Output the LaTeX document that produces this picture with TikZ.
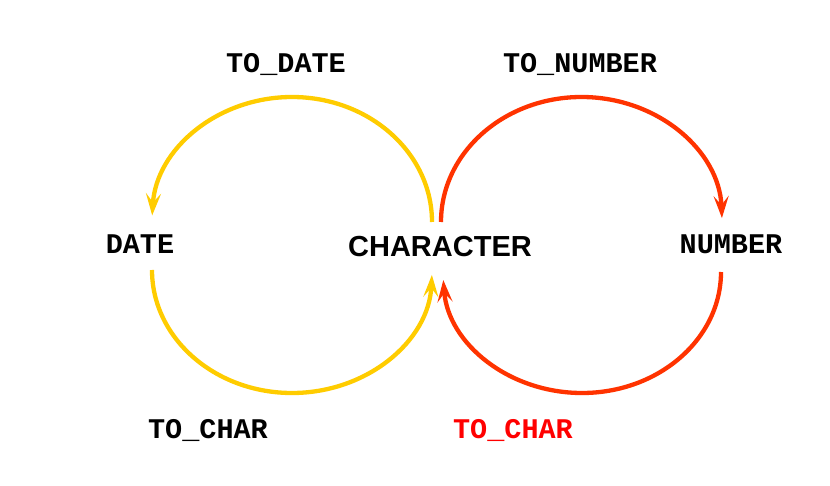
\documentclass[tikz,border=0pt]{standalone}
\usepackage{fontspec}
\setmainfont{Liberation Sans}
\newfontfamily\codefont{Liberation Mono}
\usetikzlibrary{arrows.meta}
\definecolor{arcyellow}{HTML}{FFCC00}
\definecolor{arcred}{HTML}{FF3300}
\definecolor{labelred}{HTML}{FF0000}
\begin{document}
\begin{tikzpicture}[x=1pt,y=-1pt,
  codelabel/.style={font=\codefont\bfseries\fontsize{28.5}{32}\selectfont, inner sep=0pt},
  mainlabel/.style={font=\bfseries\fontsize{29}{33}\selectfont, inner sep=0pt},
  conv/.style={line width=4.3pt, -{Stealth[length=22pt,width=15pt,inset=9pt]}},
  yel/.style={conv, draw=arcyellow},
  rd/.style={conv, draw=arcred}]
\useasboundingbox (0,0) rectangle (830,486);
\node[mainlabel] (char) at (440,247) {CHARACTER};
\node[codelabel] (date) at (140,244) {DATE};
\node[codelabel] (num) at (731,244) {NUMBER};
\node[codelabel] (todate) at (286,65) {TO\_DATE};
\node[codelabel] (tonum) at (580,65) {TO\_NUMBER};
\node[codelabel] (tochar1) at (208,430) {TO\_CHAR};
\node[codelabel, text=labelred] (tochar2) at (513,430) {TO\_CHAR};
% arc endpoints
\coordinate (cyu) at (432,222);
\coordinate (dtl) at (152,270);
\coordinate (cru) at (441,222);
\coordinate (nrl) at (721,272);
% yellow: CHARACTER -> DATE (top), DATE -> CHARACTER (bottom)
\draw[yel] (cyu) arc[start angle=0, end angle=177, x radius=140, y radius=-125];
\draw[yel] (dtl) arc[start angle=180, end angle=357.7, x radius=140, y radius=-123];
% red: CHARACTER -> NUMBER (top), NUMBER -> CHARACTER (bottom)
\draw[rd] (cru) arc[start angle=180, end angle=1.8, x radius=140.5, y radius=-125];
\draw[rd] (nrl) arc[start angle=0, end angle=-176.2, x radius=139, y radius=-121];
\end{tikzpicture}
\end{document}
